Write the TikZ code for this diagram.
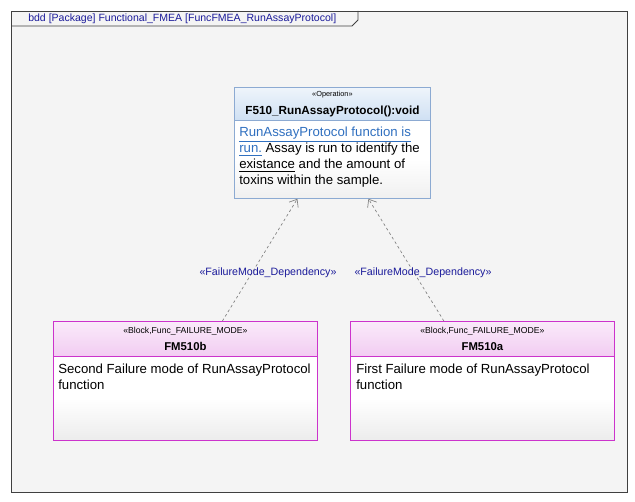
\documentclass[tikz,border=0pt]{standalone}
\usepackage{fontspec}
\setmainfont{Liberation Sans}
\usetikzlibrary{arrows.meta}

\definecolor{frameback}{HTML}{F4F4F4}
\definecolor{frameline}{HTML}{404040}
\definecolor{titleblue}{HTML}{1A1A9A}
\definecolor{opline}{HTML}{8CAAD2}
\definecolor{ophead}{HTML}{CFE0F3}
\definecolor{fmline}{HTML}{CC33CC}
\definecolor{fmhead}{HTML}{F2CCF2}
\definecolor{linkblue}{HTML}{3070C0}

\newcommand{\lnk}[1]{\textcolor{linkblue}{\underline{#1}}}

\begin{document}
\begin{tikzpicture}[x=0.75pt,y=-0.75pt,
    ophdr/.style={draw=opline, line width=0.6pt, top color=ophead!35, bottom color=ophead,
      minimum width=147pt, minimum height=24.75pt, inner sep=0pt, align=center},
    opbody/.style={draw=opline, line width=0.6pt, top color=white, bottom color=gray!12, middle color=white,
      minimum width=147pt, minimum height=58.5pt, inner sep=0pt},
    fmhdr/.style={draw=fmline, line width=0.6pt, top color=fmhead!40, bottom color=fmhead,
      minimum width=198pt, minimum height=26.25pt, inner sep=0pt, align=center},
    fmbody/.style={draw=fmline, line width=0.6pt, top color=white, bottom color=gray!15, middle color=white,
      minimum width=198pt, minimum height=63pt, inner sep=0pt},
    bodytext/.style={anchor=north west, align=left, inner sep=0pt, font=\fontsize{9.9}{12}\selectfont},
    deplabel/.style={text=titleblue, inner sep=1pt, font=\fontsize{8}{10}\selectfont},
    dep/.style={draw=gray, line width=0.5pt, dash pattern=on 2pt off 2pt,
      -{Straight Barb[length=5pt,width=8pt]}}]
  \useasboundingbox (0,0) rectangle (635,502);
  % frame
  \draw[frameline, line width=0.6pt, fill=frameback] (11,11) rectangle (627,492);
  \draw[frameline, line width=0.6pt] (11,26) -- (352,26) -- (358,20) -- (358,11);
  \node[anchor=west, text=titleblue, inner sep=0pt, font=\fontsize{7.9}{10}\selectfont] (title) at (28,18.5)
    {bdd [Package] Functional\_FMEA [FuncFMEA\_RunAssayProtocol]};
  % operation
  \node[ophdr, anchor=north west] (ophead) at (234,87)
    {{\fontsize{5.5}{6}\selectfont «Operation»}\\[1pt]{\fontsize{8.8}{10}\selectfont\bfseries F510\_RunAssayProtocol():void}};
  \node[opbody, anchor=north west] (opbody) at (234,120) {};
  \node[bodytext] (optext) at (239,127)
    {\lnk{RunAssayProtocol function is}\\ \lnk{run.} Assay is run to identify the\\
     \underline{existance} and the amount of\\ toxins within the sample.};
  % failure modes
  \node[fmhdr, anchor=north west] (fmbhead) at (53,321)
    {{\fontsize{6.5}{7}\selectfont «Block,Func\_FAILURE\_MODE»}\\[1pt]{\fontsize{8.5}{10}\selectfont\bfseries FM510b}};
  \node[fmbody, anchor=north west] (fmbbody) at (53,356) {};
  \node[bodytext] (fmbtext) at (58,364) {Second Failure mode of RunAssayProtocol\\ function};
  \node[fmhdr, anchor=north west] (fmahead) at (350,321)
    {{\fontsize{6.5}{7}\selectfont «Block,Func\_FAILURE\_MODE»}\\[1pt]{\fontsize{8.5}{10}\selectfont\bfseries FM510a}};
  \node[fmbody, anchor=north west] (fmabody) at (350,356) {};
  \node[bodytext] (fmatext) at (356,364) {First Failure mode of RunAssayProtocol\\ function};
  % dependencies
  \draw[dep] ([xshift=27.75pt]fmbhead.north) -- ([xshift=-26.25pt]opbody.south); % FM510b -> F510
  \draw[dep] ([xshift=-28.9pt]fmahead.north) -- ([xshift=27pt]opbody.south); % FM510a -> F510
  \node[deplabel] (depb) at (268,273) {«FailureMode\_Dependency»};
  \node[deplabel] (depa) at (423,273) {«FailureMode\_Dependency»};
\end{tikzpicture}
\end{document}
